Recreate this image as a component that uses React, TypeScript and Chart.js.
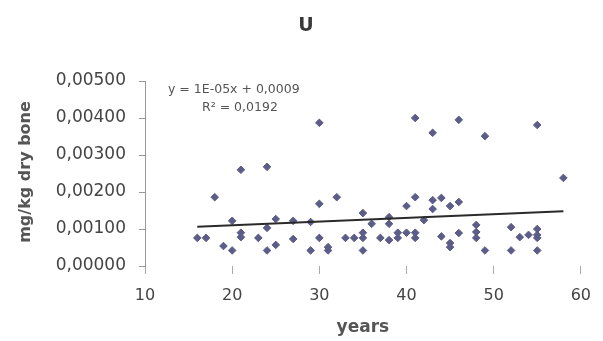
import React, { useEffect, useRef } from "react";
import { Chart, registerables } from "chart.js";

Chart.register(...registerables);

const chartTitle = "U";
const xAxisTitle = "years";
const yAxisTitle = "mg/kg dry bone";
const equationText = "y = 1E-05x + 0,0009";
const r2Text = "R² = 0,0192";

const ages = [
  16, 17, 18, 19, 20, 20, 21, 21, 21, 23, 24, 24, 24, 25, 25, 27, 27, 29, 29, 30,
  30, 30, 31, 31, 32, 33, 34, 35, 35, 35, 35, 36, 37, 38, 38, 38, 39, 39, 40, 40,
  41, 41, 41, 41, 42, 43, 43, 43, 44, 44, 45, 45, 45, 46, 46, 46, 48, 48, 48, 49,
  49, 52, 52, 53, 54, 55, 55, 55, 55, 55, 58,
];
const uValues = [
  0.00076, 0.00076, 0.00186, 0.00054, 0.00042, 0.00122, 0.0026, 0.0009, 0.00078, 0.00076,
  0.00268, 0.00103, 0.00042, 0.00127, 0.00057, 0.00122, 0.00073, 0.00042, 0.00119, 0.00387,
  0.00168, 0.00076, 0.00051, 0.00042, 0.00186, 0.00076, 0.00076, 0.0009, 0.00076, 0.00042,
  0.00143, 0.00114, 0.00076, 0.00132, 0.00114, 0.0007, 0.0009, 0.00076, 0.00162, 0.0009,
  0.0009, 0.00076, 0.004, 0.00186, 0.00124, 0.0036, 0.00178, 0.00154, 0.00184, 0.0008,
  0.00162, 0.00062, 0.00051, 0.00395, 0.00173, 0.00089, 0.00111, 0.00092, 0.00076, 0.00351,
  0.00042, 0.00105, 0.00042, 0.00078, 0.00084, 0.00381, 0.001, 0.00084, 0.00076, 0.00042,
  0.00238,
];

const trendX = [16, 58];
const trendY = [0.00106, 0.00148];

const xTicks = [10, 20, 30, 40, 50, 60];
const yTicks = [0, 0.001, 0.002, 0.003, 0.004, 0.005];

const FONT = "'DejaVu Sans', Arial, sans-serif";

const textPlugin = {
  id: "textPlugin",
  afterDraw(chart: any) {
    const ctx = chart.ctx;
    const area = chart.chartArea;
    ctx.save();
    ctx.fillStyle = "#3a3a3a";
    ctx.textAlign = "center";
    ctx.textBaseline = "middle";
    ctx.font = `bold 19px ${FONT}`;
    ctx.fillText(chartTitle, 306, 26);
    ctx.fillStyle = "#555";
    ctx.font = `bold 17px ${FONT}`;
    ctx.fillText(xAxisTitle, (area.left + area.right) / 2, 328);
    ctx.save();
    ctx.translate(26, 172);
    ctx.rotate(-Math.PI / 2);
    ctx.font = `bold 16px ${FONT}`;
    ctx.fillText(yAxisTitle, 0, 0);
    ctx.restore();
    ctx.fillStyle = "#555";
    ctx.font = `12.5px ${FONT}`;
    ctx.textAlign = "left";
    ctx.fillText(equationText, 168, 90);
    ctx.fillText(r2Text, 202, 108);
    ctx.restore();
  },
};

export default function App() {
  const ref = useRef<HTMLCanvasElement | null>(null);
  useEffect(() => {
    if (!ref.current) return;
    const points = ages.map((a, i) => ({ x: a, y: uValues[i] }));
    const trend = trendX.map((a, i) => ({ x: a, y: trendY[i] }));
    const chart = new Chart(ref.current, {
      type: "scatter",
      data: {
        datasets: [
          {
            type: "line",
            data: trend,
            borderColor: "#2a2a2a",
            borderWidth: 2,
            pointRadius: 0,
            showLine: true,
          } as any,
          {
            data: points,
            backgroundColor: "#5c5c88",
            borderColor: "#5c5c88",
            pointStyle: "rectRot",
            pointRadius: 3.8,
            borderWidth: 1,
          },
        ],
      },
      options: {
        animation: false,
        responsive: false,
        devicePixelRatio: 1,
        layout: { padding: { top: 81, right: 11, left: 0, bottom: 0 } },
        plugins: { legend: { display: false }, tooltip: { enabled: false }, title: { display: false } },
        scales: {
          x: {
            type: "linear",
            min: 10,
            max: 60,
            afterFit: (s: any) => { s.height = 75; },
            afterBuildTicks: (s: any) => { s.ticks = xTicks.map((v) => ({ value: v })); },
            ticks: { color: "#444", font: { family: FONT, size: 16 }, padding: 12 },
            grid: { drawOnChartArea: false, drawTicks: true, tickLength: 8, color: "#aaa" },
            border: { display: false },
          },
          y: {
            type: "linear",
            min: 0,
            max: 0.005,
            afterFit: (s: any) => { s.width = 145; },
            afterBuildTicks: (s: any) => { s.ticks = yTicks.map((v) => ({ value: v })); },
            ticks: {
              color: "#444",
              font: { family: FONT, size: 17 },
              padding: 13,
              callback: (v: any) => Number(v).toFixed(5).replace(".", ","),
            },
            grid: { drawOnChartArea: false, drawTicks: true, tickLength: 6, color: "#999" },
            border: { display: true, color: "#999", width: 1 },
          },
        },
      },
      plugins: [textPlugin],
    });
    return () => chart.destroy();
  }, []);
  return (
    <div style={{ position: "absolute", left: 0, top: 0, width: 603, height: 341, background: "#fff" }}>
      <canvas ref={ref} width={603} height={341} style={{ width: 603, height: 341 }} />
    </div>
  );
}
